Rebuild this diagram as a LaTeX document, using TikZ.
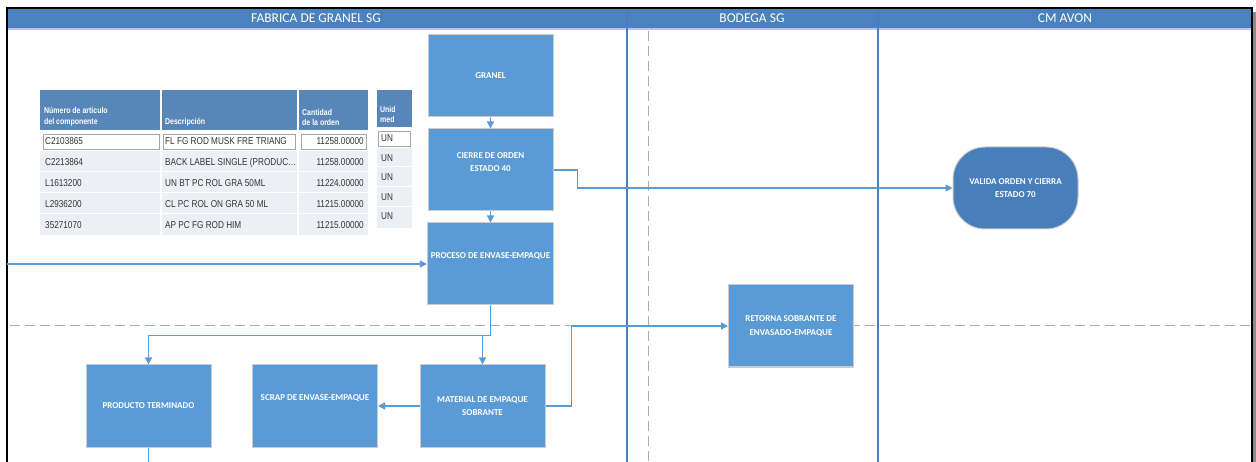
\documentclass[tikz,border=0pt]{standalone}
\usepackage{fontspec}
\setmainfont{Carlito}
\newfontfamily\tablefont[FakeStretch=0.82]{Liberation Sans}
\usetikzlibrary{arrows.meta, positioning, calc}
\definecolor{bandblue}{RGB}{74,130,189}
\definecolor{boxblue}{RGB}{91,155,213}
\definecolor{termblue}{RGB}{72,126,186}
\definecolor{flowblue}{RGB}{91,155,213}
\definecolor{laneblue}{RGB}{74,126,187}
\definecolor{headblue}{RGB}{88,134,184}
\definecolor{rowgray}{RGB}{236,240,245}
\tikzset{
  procbox/.style={
    rectangle, draw=black!20, line width=1pt, fill=boxblue, minimum width=125pt, minimum height=82pt,
    align=center, text=white, font=\fontsize{9}{13.5}\selectfont\bfseries
  },
  termbox/.style={procbox, rounded corners=32pt, fill=termblue},
  lift/.style={text depth=16pt},
  flow/.style={-{Triangle[length=7pt, width=7pt]}, draw=flowblue, line width=1.3pt},
  lanetitle/.style={text=white, font=\fontsize{13.5}{15}\selectfont}
}

\begin{document}
\begin{tikzpicture}[
    x=1pt, y=-1pt,
    laneline/.style={draw=laneblue, line width=1.2pt},
    sepdash/.style={draw=black!33, line width=1pt, dash pattern=on 10pt off 5pt},
    cell/.style={inner sep=0pt, font=\tablefont\fontsize{10}{11}\selectfont, text=black!80},
    htext/.style={inner sep=0pt, align=left, text=white, font=\tablefont\fontsize{8.5}{10.5}\selectfont\bfseries},
    inbox/.style={draw=black!35, fill=white, line width=0.6pt}
    ]
    \useasboundingbox (0,0) rectangle (1256,462);
    
    % Frame and lanes
    \fill[black!45] (1252,12) rectangle (1256,462);
    \fill[white] (7,8) rectangle (1252,470);
    \fill[bandblue] (8,9) rectangle (1251,28);
    \draw[blue!25, line width=2pt] (8,29.5) -- (1251,29.5);
    \draw[sepdash] (648,31) -- (648,462);
    \draw[sepdash] (10,326) -- (1251,326);
    \draw[laneline] (627,9) -- (627,462);
    \draw[laneline] (878,9) -- (878,462);
    \draw[line width=1.5pt] (7,470) -- (7,8) -- (1252,8) -- (1252,470);
    \node[lanetitle] (fabrica) at (316,18) {FABRICA DE GRANEL SG};
    \node[lanetitle] (bodega) at (752,18) {BODEGA SG};
    \node[lanetitle] (avon) at (1065,18) {CM AVON};
    
    % Components table
    \foreach \xa/\xb in {40/160, 162/297, 299/368}{
      \fill[headblue] (\xa,90) rectangle (\xb,130);
      \fill[rowgray] (\xa,151) rectangle (\xb,235);
    }
    \foreach \ya in {172,193,214}
      \draw[white, line width=1pt] (40,\ya) -- (368,\ya);
    \draw[inbox] (43,134) rectangle (159,149);
    \draw[inbox] (163,134) rectangle (295,149);
    \draw[inbox] (301,134) rectangle (366,149);
    \node[htext, anchor=south west] (hcod) at (44,126) {Número de artículo\\del componente};
    \node[htext, anchor=south west] (hdesc) at (165,126) {Descripción};
    \node[htext, anchor=south west] (hcant) at (302,126) {Cantidad\\de la orden};
    \foreach \cod/\desc/\cant [count=\i] in {
        C2103865/FL FG ROD MUSK FRE TRIANG/11258.00000,
        C2213864/BACK LABEL SINGLE (PRODUC\ldots/11258.00000,
        L1613200/UN BT PC ROL GRA 50ML/11224.00000,
        L2936200/CL PC ROL ON GRA 50 ML/11215.00000,
        35271070/AP PC FG ROD HIM/11215.00000}{
      \node[cell, anchor=west] (cod\i) at (45,{141.5+(\i-1)*21}) {\cod};
      \node[cell, anchor=west] (desc\i) at (165,{141.5+(\i-1)*21}) {\desc};
      \node[cell, anchor=east] (cant\i) at (364,{141.5+(\i-1)*21}) {\cant};
    }
    
    % Unit column
    \fill[headblue] (377,90) rectangle (412,127);
    \fill[rowgray] (377,148) rectangle (412,228);
    \foreach \ya in {167,187,207}
      \draw[white, line width=1pt] (377,\ya) -- (412,\ya);
    \draw[inbox] (378,131) rectangle (410,146);
    \node[htext, anchor=south west] (hun) at (380,123) {Unid\\med};
    \foreach \i in {1,2,3,4,5}
      \node[cell, anchor=west] (un\i) at (381,{138.5+(\i-1)*19.5}) {UN};
    
    % Process boxes
    \node[procbox] (granel) at (490.5,76) {GRANEL};
    \node[procbox, lift] (cierre) at (490.5,170) {CIERRE DE ORDEN\\ESTADO 40};
    \node[procbox, lift] (proceso) at (490.5,264) {PROCESO DE ENVASE-EMPAQUE};
    \node[procbox] (retorna) at (791,326) {RETORNA SOBRANTE DE\\ENVASADO-EMPAQUE};
    \node[termbox] (valida) at (1015.5,188) {VALIDA ORDEN Y CIERRA\\ESTADO 70};
    \node[procbox] (producto) at (148.5,406) {PRODUCTO TERMINADO};
    \node[procbox, lift] (scrap) at (315,406) {SCRAP DE ENVASE-EMPAQUE};
    \node[procbox] (material) at (482.5,406) {MATERIAL DE EMPAQUE\\SOBRANTE};
    
    % Connectors
    \coordinate (entrada) at (7,264);
    \coordinate (salida) at (148.5,462);
    \coordinate (split) at ($(proceso.south)+(0,30)$);
    \draw[flow] (granel) -- (cierre);
    \draw[flow] (cierre) -- (proceso);
    \draw[flow] (cierre.east) -- ++(24,0) |- (valida.west);
    \draw[flow] (entrada) -- (proceso.west);
    \draw[flow] (proceso.south) -- (split) -| (producto.north);
    \draw[flow] (split) -| (material.north);
    \draw[flow] (material) -- (scrap);
    \draw[flow] (material.east) -- ++(26,0) |- (retorna.west);
    \draw[draw=flowblue, line width=1.3pt] (producto.south) -- (salida);
    
    \end{tikzpicture}
\end{document}
